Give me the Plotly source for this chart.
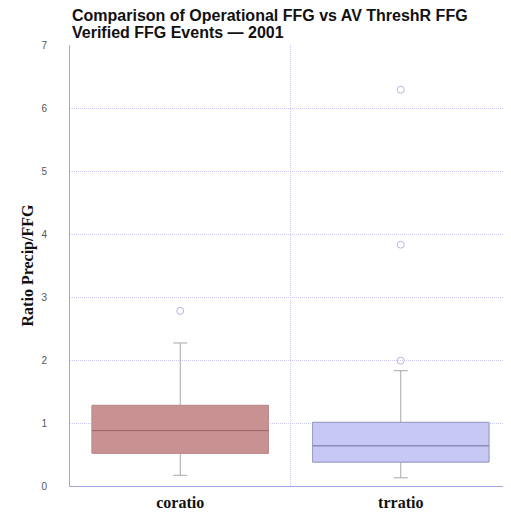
import plotly.graph_objects as go

categories = ["coratio", "trratio"]
q1 = [0.52, 0.38]
median = [0.88, 0.64]
q3 = [1.28, 1.01]
lower_whisker = [0.17, 0.13]
upper_whisker = [2.27, 1.83]
outlier_x = ["coratio", "trratio", "trratio", "trratio"]
outlier_y = [2.78, 1.99, 3.83, 6.29]
title_lines = ["Comparison of Operational FFG vs AV ThreshR FFG",
               "Verified FFG Events — 2001"]

fill_colors = ["#c89292", "#c8c8f5"]
edge_colors = ["#c08a8a", "#9c9cce"]
median_colors = ["#a06868", "#8e8ebc"]
whisker_color = "#a8a8a8"
grid_color = "#cacaf4"

fig = go.Figure()
for i, c in enumerate(categories):
    # whiskers
    fig.add_trace(go.Box(
        x=[c], q1=[q1[i]], median=[median[i]], q3=[q3[i]],
        lowerfence=[lower_whisker[i]], upperfence=[upper_whisker[i]],
        width=0.8, whiskerwidth=0.08, fillcolor=fill_colors[i],
        line=dict(color=whisker_color, width=1), boxpoints=False,
        showlegend=False, hoverinfo="skip"))
    # box body
    fig.add_trace(go.Box(
        x=[c], q1=[q1[i]], median=[median[i]], q3=[q3[i]],
        lowerfence=[q1[i]], upperfence=[q3[i]],
        width=0.8, whiskerwidth=0, fillcolor=fill_colors[i],
        line=dict(color=edge_colors[i], width=1), boxpoints=False,
        showlegend=False, hoverinfo="skip"))
    # median line
    fig.add_trace(go.Box(
        x=[c], q1=[median[i]], median=[median[i]], q3=[median[i]],
        lowerfence=[median[i]], upperfence=[median[i]],
        width=0.8, whiskerwidth=0, fillcolor="rgba(0,0,0,0)",
        line=dict(color=median_colors[i], width=1), boxpoints=False,
        showlegend=False, hoverinfo="skip"))

fig.add_trace(go.Scatter(
    x=outlier_x, y=outlier_y, mode="markers",
    marker=dict(symbol="circle-open", size=7, color="#b4b4ea", line=dict(width=1)),
    showlegend=False))

title_font = dict(family="Liberation Sans, Arial, sans-serif", size=16, color="#111")
annotations = []
for line, shift in zip(title_lines, [30, 13]):
    annotations.append(dict(
        text="<b>" + line + "</b>", font=title_font,
        xref="paper", x=0, xanchor="left", xshift=0,
        yref="paper", y=1, yanchor="middle", yshift=shift,
        align="left", showarrow=False))

# page body adds an 8px margin, so the figure is sized to fit the window
fig.update_layout(
    width=503, height=506,
    margin=dict(l=62, r=0, t=37, b=28),
    paper_bgcolor="white", plot_bgcolor="white",
    boxmode="overlay",
    annotations=annotations,
    xaxis=dict(
        type="category", categoryorder="array", categoryarray=categories,
        range=[-0.5, 1.5], tickson="boundaries", ticks="", automargin=False,
        showgrid=True, gridcolor=grid_color, griddash="1px,1px", gridwidth=1,
        showline=True, linecolor="#a4a4e2", linewidth=1,
        tickfont=dict(family="Liberation Serif, Times New Roman, serif", size=16,
                      color="#111", weight="bold"),
        ticklabelstandoff=2),
    yaxis=dict(
        range=[0, 7], dtick=1, tick0=0, automargin=False,
        showgrid=True, gridcolor=grid_color, griddash="1px,1px", gridwidth=1,
        zeroline=False,
        showline=True, linecolor="#a4a4e2", linewidth=1,
        ticks="", ticklabelstandoff=20,
        tickfont=dict(family="Liberation Sans, Arial, sans-serif", size=10, color="#555"),
        title=dict(text="<b>Ratio Precip/FFG</b>", standoff=3,
                   font=dict(family="Liberation Serif, Times New Roman, serif", size=16, color="#111"))),
)

fig.write_html("out.html")
